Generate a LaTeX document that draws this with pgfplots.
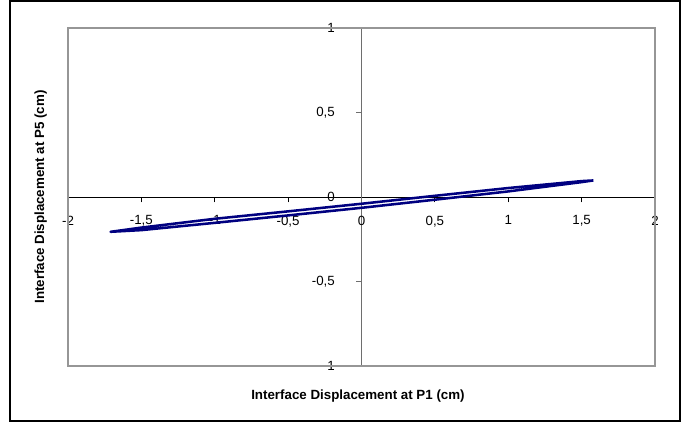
\documentclass[border=0pt]{standalone}
\usepackage{fontspec}
\setmainfont{Liberation Sans}
\usepackage{pgfplots}
\pgfplotsset{compat=1.18}
\definecolor{navyline}{RGB}{0,0,128}
\definecolor{boxgray}{RGB}{150,150,150}
\definecolor{axgray}{RGB}{110,110,110}
\begin{document}
\begin{tikzpicture}[font=\fontsize{10}{12}\selectfont]
\begin{axis}[
  at={(0,0)}, anchor=south west, scale only axis,
  width=440.25pt, height=253.5pt,
  xmin=-2, xmax=2, ymin=-1, ymax=1,
  axis lines=middle,
  x axis line style={black, -},
  y axis line style={axgray, -},
  xtick={-2,-1.5,-1,-0.5,0,0.5,1,1.5,2},
  ytick={-1,-0.5,0,0.5,1},
  hide obscured x ticks=false, hide obscured y ticks=false,
  tick align=outside, major tick length=4pt,
  x tick style={black, line width=0.6pt},
  y tick style={axgray, line width=0.6pt},
  /pgf/number format/use comma,
  /pgf/number format/assume math mode=true,
  xticklabel style={font=\fontsize{10}{12}\selectfont, yshift=-6.5pt},
  yticklabel style={font=\fontsize{10}{12}\selectfont, xshift=-12.5pt},
  clip=false,
]
\draw[boxgray, line width=0.8pt] (rel axis cs:0,0) rectangle (rel axis cs:1,1);
% lower branch (right to left), then upper branch (left to right)
\addplot[navyline, line width=1.9pt, line join=round] coordinates {
  (1.58,0.098) (1.5,0.088) (1.0,0.033) (0.5,-0.016) (0.0,-0.064)
  (-0.5,-0.109) (-1.0,-0.153) (-1.5,-0.196) (-1.71,-0.206)
  (-1.6,-0.193) (-1.5,-0.181) (-1.0,-0.129) (-0.5,-0.085) (0.0,-0.040)
  (0.5,0.007) (1.0,0.053) (1.5,0.094) (1.58,0.098)
};
\node[font=\bfseries\fontsize{10}{12}\selectfont, anchor=center]
  at (rel axis cs:0.494,0) [yshift=-22.5pt] {Interface Displacement at P1 (cm)};
\node[xshift=-20.5pt, rotate=90, font=\bfseries\fontsize{10}{12}\selectfont, anchor=center]
  at (rel axis cs:0,0.5) {Interface Displacement at P5 (cm)};
\end{axis}
\draw[black, line width=0.9pt] (-43.5pt,-41.25pt) rectangle (459pt,273.75pt);
\pgfresetboundingbox
\useasboundingbox (-51pt,-42.75pt) rectangle (463.5pt,274.5pt);
\end{tikzpicture}
\end{document}
